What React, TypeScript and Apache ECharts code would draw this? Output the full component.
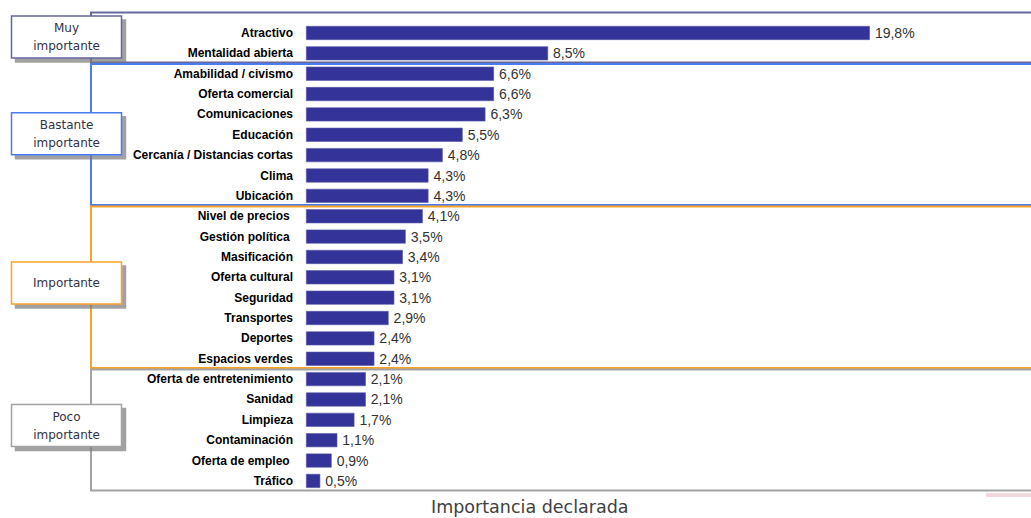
import React, { useEffect, useRef } from "react";
import * as echarts from "echarts";

const categories = [
  "Atractivo",
  "Mentalidad abierta",
  "Amabilidad / civismo",
  "Oferta comercial",
  "Comunicaciones",
  "Educación",
  "Cercanía / Distancias cortas",
  "Clima",
  "Ubicación",
  "Nivel de precios ",
  "Gestión política ",
  "Masificación",
  "Oferta cultural",
  "Seguridad",
  "Transportes",
  "Deportes",
  "Espacios verdes",
  "Oferta de entretenimiento",
  "Sanidad",
  "Limpieza",
  "Contaminación",
  "Oferta de empleo ",
  "Tráfico",
];

const values = [
  19.8, 8.5, 6.6, 6.6, 6.3, 5.5, 4.8, 4.3, 4.3, 4.1, 3.5, 3.4, 3.1, 3.1, 2.9,
  2.4, 2.4, 2.1, 2.1, 1.7, 1.1, 0.9, 0.5,
];

const groupNames = ["Muy\nimportante", "Bastante\nimportante", "Importante", "Poco\nimportante"];
const groupSizes = [2, 7, 8, 6];
const groupColors = ["#66689c", "#4a7cf0", "#f7a229", "#a3a3a3"];

const title = "Importancia declarada";

export default function App() {
  const ref = useRef<HTMLDivElement>(null);
  useEffect(() => {
    if (!ref.current) return;
    const chart = echarts.init(ref.current, null, { renderer: "svg" });
    chart.setOption({
      animation: false,
      backgroundColor: "#ffffff",
      title: {
        text: title,
        left: 431,
        top: 498,
        padding: 0,
        textStyle: {
          fontFamily: "DejaVu Sans",
          fontSize: 17.5,
          fontWeight: "normal",
          color: "#404040",
        },
      },
      grid: { left: 306, top: 22.8, width: 712, height: 468.3 },
      xAxis: {
        type: "value",
        min: 0,
        max: 25,
        show: false,
      },
      yAxis: {
        type: "category",
        data: categories,
        inverse: true,
        axisLine: { show: false },
        axisTick: { show: false },
        axisLabel: {
          margin: 13,
          fontFamily: "Liberation Sans",
          fontWeight: "bold",
          fontSize: 12,
          color: "#000000",
        },
      },
      series: [
        {
          type: "bar",
          data: values,
          barWidth: 14,
          itemStyle: { color: "#333399", borderColor: "#5a5aa8", borderWidth: 0.6 },
          label: {
            show: true,
            position: "right",
            distance: 5,
            fontFamily: "Liberation Sans",
            fontSize: 14,
            color: "#333333",
            formatter: (p: any) => p.value.toFixed(1).replace(".", ",") + "%",
          },
          z: 5,
        },
      ],
    });

    const c0 = chart.convertToPixel({ yAxisIndex: 0 }, categories[0]) as number;
    const c1 = chart.convertToPixel({ yAxisIndex: 0 }, categories[1]) as number;
    const band = c1 - c0;
    const gridTop = c0 - band / 2;
    const boxShift = [-1, -1, -4.5, -4.5];
    const graphics: any[] = [];
    let start = 0;
    groupSizes.forEach((n, i) => {
      let top = gridTop + start * band;
      const bottom = gridTop + (start + n) * band;
      if (i === 0) top = 12.5;
      const y0 = i === 0 ? top : top + 0.5;
      const y1 = i === groupSizes.length - 1 ? bottom - 0.5 : bottom - 1;
      graphics.push({
        type: "rect",
        z: 1,
        shape: { x: 91, y: y0, width: 1000, height: y1 - y0 },
        style: { fill: "none", stroke: groupColors[i], lineWidth: 2 },
      });
      const mid = (top + bottom) / 2 + boxShift[i];
      graphics.push({
        type: "rect",
        z: 10,
        shape: { x: 11.5, y: mid - 21, width: 110, height: 42 },
        style: {
          fill: "#ffffff",
          stroke: groupColors[i],
          lineWidth: 1.5,
          shadowColor: "rgba(120,120,120,0.7)",
          shadowOffsetX: 4,
          shadowOffsetY: 4,
          shadowBlur: 1,
        },
      });
      graphics.push({
        type: "text",
        z: 11,
        x: 66.5,
        y: mid,
        style: {
          text: groupNames[i],
          fontFamily: "DejaVu Sans",
          fontSize: 12,
          lineHeight: 18,
          fill: "#333344",
          align: "center",
          verticalAlign: "middle",
        },
      });
      start += n;
    });
    graphics.push({
      type: "rect",
      z: 1,
      shape: { x: 986, y: 493, width: 45, height: 4 },
      style: { fill: "#f0d8dd" },
    });
    chart.setOption({ graphic: graphics });
    return () => chart.dispose();
  }, []);
  return (
    <div
      ref={ref}
      style={{ position: "fixed", left: 0, top: 0, width: 1031, height: 518 }}
    />
  );
}
